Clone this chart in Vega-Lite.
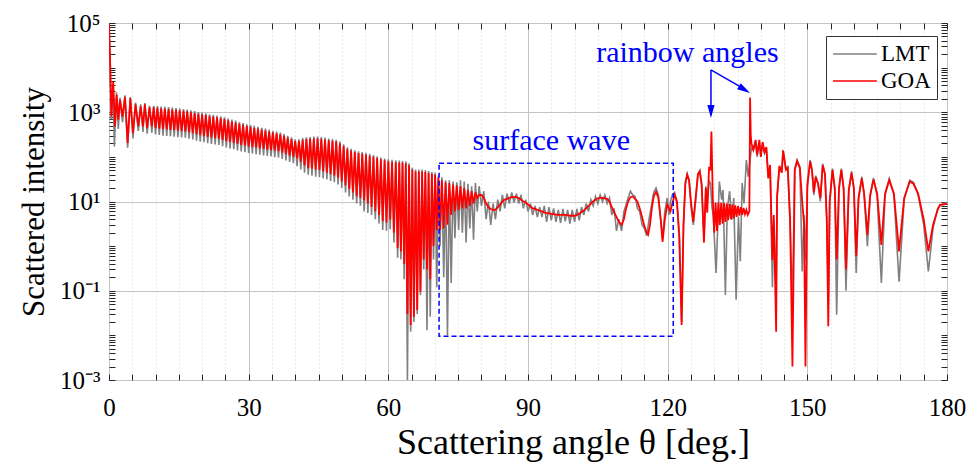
{
"$schema": "https://vega.github.io/schema/vega-lite/v6.json",
"width": 838, "height": 357,
"autosize": {"type": "none"},
"padding": {"left": 109, "top": 23, "right": 23, "bottom": 87},
"config": {"font": "Liberation Serif", "view": {"stroke": "#262626", "strokeWidth": 1}, "background": "white",
"axis": {"labelFont": "Liberation Serif", "titleFont": "Liberation Serif"},
"legend": {"labelFont": "Liberation Serif", "titleFont": "Liberation Serif"},
"text": {"font": "Liberation Serif"}},
"datasets": {
"goa": [
{"t":0,"v":95000},{"t":0.25,"v":12000},{"t":0.5,"v":800},{"t":0.9,"v":4900},{"t":1.3,"v":480},{"t":1.65,"v":2450},{"t":2.0,"v":680},{"t":2.36,"v":1900},{"t":2.9,"v":800},{"t":3.44,"v":2200},{"t":4.0,"v":205},{"t":4.58,"v":2050},{"t":5.15,"v":340},{"t":5.7,"v":1500},{"t":6.3,"v":480},{"t":6.8,"v":1350},{"t":7.3,"v":480},{"t":7.7,"v":1500},{"t":8.2,"v":440},{"t":8.7,"v":1290},{"t":9.2,"v":480},{"t":9.6,"v":1300},{"t":10.0,"v":440},
{"t":10.4,"v":1250},{"t":10.8,"v":430},{"t":11.2,"v":1230},{"t":11.6,"v":420},{"t":12.0,"v":1210},{"t":12.4,"v":410},{"t":12.8,"v":1180},{"t":13.2,"v":400},{"t":13.6,"v":1150},{"t":14.0,"v":395},{"t":14.4,"v":1130},{"t":14.8,"v":385},{"t":15.2,"v":1100},{"t":15.6,"v":380},{"t":16.0,"v":1070},{"t":16.4,"v":372},{"t":16.8,"v":1050},{"t":17.2,"v":355},{"t":17.6,"v":1000},{"t":18.0,"v":340},{"t":18.4,"v":960},{"t":18.8,"v":320},{"t":19.2,"v":920},{"t":19.6,"v":305},{"t":20.0,"v":890},{"t":20.4,"v":295},{"t":20.8,"v":860},{"t":21.2,"v":280},{"t":21.6,"v":820},{"t":22.0,"v":270},{"t":22.4,"v":800},{"t":22.8,"v":262},{"t":23.2,"v":770},{"t":23.6,"v":255},{"t":24.0,"v":740},{"t":24.4,"v":240},{"t":24.8,"v":700},{"t":25.2,"v":225},{"t":25.6,"v":660},{"t":26.0,"v":215},{"t":26.4,"v":620},{"t":26.8,"v":205},{"t":27.2,"v":590},{"t":27.6,"v":195},{"t":28.0,"v":550},{"t":28.4,"v":185},{"t":28.8,"v":520},{"t":29.2,"v":178},{"t":29.6,"v":490},{"t":30.0,"v":170},{"t":30.4,"v":470},{"t":30.8,"v":165},{"t":31.2,"v":450},{"t":31.6,"v":160},{"t":32.0,"v":430},{"t":32.4,"v":155},{"t":32.8,"v":410},{"t":33.2,"v":150},{"t":33.6,"v":390},{"t":34.0,"v":146},{"t":34.4,"v":370},{"t":34.8,"v":142},{"t":35.2,"v":350},{"t":35.6,"v":138},{"t":36.0,"v":335},{"t":36.4,"v":134},{"t":36.8,"v":320},{"t":37.2,"v":125},{"t":37.6,"v":295},{"t":38.0,"v":115},{"t":38.4,"v":270},{"t":38.8,"v":107},{"t":39.2,"v":250},{"t":39.6,"v":100},{"t":40.0,"v":225},{"t":40.4,"v":92},{"t":40.8,"v":225},{"t":41.2,"v":78},{"t":41.6,"v":240},{"t":42.0,"v":64},{"t":42.4,"v":250},{"t":42.8,"v":56},{"t":43.2,"v":255},{"t":43.6,"v":54},{"t":44.0,"v":258},{"t":44.4,"v":52},{"t":44.8,"v":260},{"t":45.2,"v":51},{"t":45.6,"v":255},{"t":46.0,"v":47},{"t":46.4,"v":245},{"t":46.8,"v":44},{"t":47.2,"v":235},{"t":47.6,"v":41},{"t":48.0,"v":228},{"t":48.4,"v":38},{"t":48.8,"v":220},{"t":49.2,"v":34},{"t":49.6,"v":200},{"t":50.0,"v":28},{"t":50.4,"v":175},{"t":50.8,"v":23},{"t":51.2,"v":150},{"t":51.6,"v":19},{"t":52.0,"v":138},{"t":52.4,"v":16},{"t":52.8,"v":128},{"t":53.2,"v":13},{"t":53.6,"v":122},{"t":54.0,"v":12},{"t":54.4,"v":117},{"t":54.8,"v":10.5},{"t":55.2,"v":112},{"t":55.6,"v":9},{"t":56.0,"v":106},{"t":56.4,"v":7.5},{"t":56.8,"v":100},{"t":57.2,"v":6},{"t":57.6,"v":94},{"t":58.0,"v":5},{"t":58.4,"v":88},{"t":58.8,"v":3.6},{"t":59.2,"v":84},{"t":59.6,"v":3.4},{"t":60.0,"v":80},{"t":60.4,"v":3.9},{"t":60.8,"v":78},{"t":61.2,"v":2.0},{"t":61.6,"v":76},{"t":62.0,"v":0.9},
{"t":62.35,"v":75},{"t":62.7,"v":0.76},{"t":63.05,"v":74},{"t":63.4,"v":0.4},{"t":63.75,"v":72},{"t":64.1,"v":0.03},{"t":64.45,"v":65},{"t":64.8,"v":0.017},{"t":65.15,"v":52},{"t":65.5,"v":0.026},{"t":65.85,"v":47},{"t":66.2,"v":0.037},{"t":66.55,"v":47},{"t":66.9,"v":0.095},{"t":67.25,"v":47},{"t":67.6,"v":0.5},{"t":67.95,"v":46},{"t":68.3,"v":0.3},{"t":68.65,"v":44},{"t":69.0,"v":0.18},{"t":69.35,"v":42},{"t":69.7,"v":1.0},{"t":70.05,"v":40},{"t":70.4,"v":2.3},{"t":70.75,"v":34},{"t":71.1,"v":2.3},
{"t":71.5,"v":30},{"t":71.9,"v":2.5},{"t":72.3,"v":27},{"t":72.7,"v":3.0},{"t":73.1,"v":26},{"t":73.5,"v":5},{"t":73.9,"v":24},{"t":74.3,"v":6},{"t":74.7,"v":23},{"t":75.1,"v":6.5},{"t":75.5,"v":22},{"t":75.9,"v":7},{"t":76.3,"v":20},{"t":76.7,"v":7},{"t":77.1,"v":18},{"t":77.5,"v":8},{"t":77.9,"v":17},{"t":78.3,"v":9},{"t":78.7,"v":16},{"t":79.1,"v":12},{"t":79.5,"v":14},{"t":80.0,"v":14},{"t":80.5,"v":12},{"t":81.0,"v":9},{"t":81.5,"v":7.5},{"t":82.0,"v":6.8},{"t":82.5,"v":6.5},{"t":83.0,"v":6.5},{"t":83.5,"v":7.5},{"t":84.0,"v":8.5},{"t":84.5,"v":10},{"t":85.0,"v":11},{"t":85.5,"v":11.5},{"t":86.0,"v":12},{"t":86.5,"v":12.5},{"t":87.0,"v":12.5},{"t":87.5,"v":12.5},{"t":88.0,"v":12},{"t":88.5,"v":11},{"t":89.0,"v":10},{"t":89.5,"v":9.5},{"t":90.0,"v":8.5},{"t":90.5,"v":7.8},{"t":91.0,"v":7},{"t":91.5,"v":6.8},{"t":92.0,"v":6.5},{"t":92.5,"v":6.2},{"t":93.0,"v":6},{"t":93.5,"v":5.7},{"t":94.0,"v":5.5},{"t":94.5,"v":5.4},{"t":95.0,"v":5.3},{"t":95.5,"v":5.2},{"t":96.0,"v":5.1},{"t":96.5,"v":5.0},{"t":97.0,"v":5.0},{"t":97.5,"v":5.0},{"t":98.0,"v":5.0},{"t":98.5,"v":4.9},{"t":99.0,"v":4.8},{"t":99.5,"v":4.8},{"t":100.0,"v":4.8},{"t":100.5,"v":5.0},{"t":101.0,"v":5.3},{"t":101.5,"v":5.8},{"t":102.0,"v":6.3},{"t":102.5,"v":7},{"t":103.0,"v":8},{"t":103.5,"v":9},{"t":104.0,"v":10},{"t":104.5,"v":11},{"t":105.0,"v":11.8},{"t":105.5,"v":12},{"t":106.0,"v":12},{"t":106.5,"v":11.8},{"t":107.0,"v":11.5},{"t":107.5,"v":10},{"t":108.0,"v":7.5},{"t":108.5,"v":5.8},{"t":109.0,"v":4.5},{"t":109.5,"v":3.5},{"t":110.1,"v":3.0},{"t":110.6,"v":4},{"t":111.0,"v":6.5},{"t":111.5,"v":10},{"t":112.0,"v":12.5},{"t":112.5,"v":13},{"t":113.0,"v":11.5},{"t":113.5,"v":10},{"t":114.0,"v":7},{"t":114.5,"v":4.5},{"t":115.0,"v":2.8},{"t":115.5,"v":2.0},{"t":115.8,"v":1.8},{"t":116.2,"v":3},{"t":116.6,"v":7},{"t":117.0,"v":13},{"t":117.5,"v":16.5},{"t":118.0,"v":12},{"t":118.5,"v":4},{"t":118.9,"v":1.25},{"t":119.4,"v":4},{"t":119.9,"v":8.5},{"t":120.3,"v":7},{"t":120.6,"v":6},{"t":121.0,"v":9},{"t":121.5,"v":14},{"t":122.0,"v":10},{"t":122.5,"v":1.5},{"t":123.0,"v":0.017},{"t":123.4,"v":3},{"t":123.8,"v":25},{"t":124.2,"v":40},{"t":124.6,"v":30},{"t":125.0,"v":10},{"t":125.5,"v":3.5},{"t":126.0,"v":12},{"t":126.5,"v":40},{"t":126.9,"v":47},{"t":127.3,"v":25},{"t":127.8,"v":1.2},{"t":128.2,"v":20},{"t":128.5,"v":5.6},{"t":128.9,"v":60},{"t":129.2,"v":50},{"t":129.4,"v":370},{"t":129.7,"v":11},{"t":130.0,"v":2.0},
{"t":130.3,"v":9.5},{"t":130.6,"v":2.2},{"t":130.9,"v":9.5},{"t":131.2,"v":3.0},{"t":131.5,"v":9.5},{"t":131.8,"v":3.2},{"t":132.1,"v":9.2},{"t":132.4,"v":3.5},{"t":132.7,"v":9.0},{"t":133.0,"v":3.8},{"t":133.3,"v":8.8},{"t":133.6,"v":4.0},{"t":133.9,"v":8.5},{"t":134.2,"v":4.2},{"t":134.5,"v":8.2},{"t":134.8,"v":4.5},{"t":135.1,"v":8.0},{"t":135.4,"v":4.8},{"t":135.7,"v":7.5},{"t":136.0,"v":5.0},{"t":136.3,"v":7.2},{"t":136.6,"v":5.2},{"t":136.9,"v":6.5},{"t":137.2,"v":5.0},{"t":137.55,"v":6.0},{"t":137.7,"v":2140},
{"t":137.85,"v":300},{"t":138.0,"v":200},{"t":138.4,"v":145},{"t":138.9,"v":240},{"t":139.2,"v":112},{"t":139.7,"v":240},{"t":140.0,"v":100},{"t":140.4,"v":215},{"t":140.8,"v":130},{"t":141.2,"v":165},{"t":141.6,"v":33},{"t":142.0,"v":66},{"t":142.5,"v":0.49},{"t":142.8,"v":5},{"t":143.3,"v":0.012},{"t":143.5,"v":13},{"t":144.0,"v":63},{"t":144.5,"v":44},{"t":144.8,"v":138},{"t":145.4,"v":51},{"t":145.8,"v":56},{"t":146.3,"v":3.9},{"t":146.8,"v":0.002},{"t":147.3,"v":51},{"t":147.8,"v":80},{"t":148.4,"v":56},{"t":148.9,"v":10},{"t":149.3,"v":3},{"t":149.6,"v":0.002},{"t":150.0,"v":24},{"t":150.6,"v":79},{"t":151.0,"v":50},{"t":151.4,"v":16},{"t":151.8,"v":35},{"t":152.3,"v":25},{"t":152.8,"v":12},{"t":153.3,"v":65},{"t":153.8,"v":40},{"t":154.2,"v":3},{"t":154.5,"v":0.016},{"t":154.8,"v":10},{"t":155.4,"v":51},{"t":155.9,"v":20},{"t":156.3,"v":0.5},{"t":156.8,"v":20},{"t":157.3,"v":51},{"t":157.8,"v":20},{"t":158.3,"v":0.3},{"t":158.9,"v":18},{"t":159.5,"v":44},{"t":160.0,"v":20},{"t":160.5,"v":0.6},{"t":161.0,"v":12},{"t":161.7,"v":33},{"t":162.2,"v":15},{"t":162.9,"v":1.8},{"t":163.5,"v":14},{"t":164.2,"v":31},{"t":165.0,"v":15},{"t":165.9,"v":1.07},{"t":166.7,"v":15},{"t":167.6,"v":30},{"t":168.6,"v":15},{"t":169.7,"v":0.76},{"t":170.8,"v":12},{"t":172.0,"v":28},{"t":172.8,"v":25},{"t":173.8,"v":15},{"t":175.0,"v":3.9},{"t":176.0,"v":0.76},{"t":177.0,"v":3},{"t":178.0,"v":6.5},{"t":178.5,"v":8.5},{"t":179.2,"v":8.5},{"t":180.0,"v":9}
],
"lmt": [
{"t":0,"v":95000},{"t":0.25,"v":15000},{"t":0.5,"v":700},{"t":0.85,"v":4000},{"t":1.15,"v":170},{"t":1.6,"v":2800},{"t":2.0,"v":420},{"t":2.36,"v":2100},{"t":2.9,"v":600},{"t":3.44,"v":2400},{"t":4.0,"v":160},{"t":4.58,"v":2200},{"t":5.15,"v":260},{"t":5.7,"v":1650},{"t":6.3,"v":380},{"t":6.8,"v":1500},{"t":7.3,"v":360},{"t":7.7,"v":1600},{"t":8.2,"v":330},{"t":8.7,"v":1400},{"t":9.2,"v":350},{"t":9.6,"v":1400},{"t":10.0,"v":320},
{"t":10.4,"v":1380},{"t":10.8,"v":310},{"t":11.2,"v":1350},{"t":11.6,"v":300},{"t":12.0,"v":1330},{"t":12.4,"v":295},{"t":12.8,"v":1300},{"t":13.2,"v":290},{"t":13.6,"v":1270},{"t":14.0,"v":285},{"t":14.4,"v":1240},{"t":14.8,"v":277},{"t":15.2,"v":1210},{"t":15.6,"v":274},{"t":16.0,"v":1180},{"t":16.4,"v":268},{"t":16.8,"v":1155},{"t":17.2,"v":256},{"t":17.6,"v":1100},{"t":18.0,"v":245},{"t":18.4,"v":1060},{"t":18.8,"v":230},{"t":19.2,"v":1010},{"t":19.6,"v":220},{"t":20.0,"v":980},{"t":20.4,"v":212},{"t":20.8,"v":946},{"t":21.2,"v":202},{"t":21.6,"v":900},{"t":22.0,"v":194},{"t":22.4,"v":880},{"t":22.8,"v":189},{"t":23.2,"v":847},{"t":23.6,"v":184},{"t":24.0,"v":814},{"t":24.4,"v":173},{"t":24.8,"v":770},{"t":25.2,"v":162},{"t":25.6,"v":726},{"t":26.0,"v":155},{"t":26.4,"v":682},{"t":26.8,"v":148},{"t":27.2,"v":649},{"t":27.6,"v":140},{"t":28.0,"v":605},{"t":28.4,"v":133},{"t":28.8,"v":572},{"t":29.2,"v":128},{"t":29.6,"v":539},{"t":30.0,"v":122},{"t":30.4,"v":517},{"t":30.8,"v":119},{"t":31.2,"v":495},{"t":31.6,"v":115},{"t":32.0,"v":473},{"t":32.4,"v":112},{"t":32.8,"v":451},{"t":33.2,"v":108},{"t":33.6,"v":429},{"t":34.0,"v":105},{"t":34.4,"v":407},{"t":34.8,"v":102},{"t":35.2,"v":385},{"t":35.6,"v":99},{"t":36.0,"v":369},{"t":36.4,"v":96},{"t":36.8,"v":352},{"t":37.2,"v":90},{"t":37.6,"v":325},{"t":38.0,"v":83},{"t":38.4,"v":297},{"t":38.8,"v":77},{"t":39.2,"v":275},{"t":39.6,"v":72},{"t":40.0,"v":248},{"t":40.4,"v":62},{"t":40.8,"v":248},{"t":41.2,"v":52},{"t":41.6,"v":264},{"t":42.0,"v":44},{"t":42.4,"v":275},{"t":42.8,"v":40},{"t":43.2,"v":280},{"t":43.6,"v":38},{"t":44.0,"v":284},{"t":44.4,"v":36},{"t":44.8,"v":286},{"t":45.2,"v":35},{"t":45.6,"v":280},{"t":46.0,"v":33},{"t":46.4,"v":270},{"t":46.8,"v":31},{"t":47.2,"v":258},{"t":47.6,"v":29},{"t":48.0,"v":251},{"t":48.4,"v":27},{"t":48.8,"v":242},{"t":49.2,"v":24},{"t":49.6,"v":220},{"t":50.0,"v":20},{"t":50.4,"v":192},{"t":50.8,"v":16},{"t":51.2,"v":165},{"t":51.6,"v":13},{"t":52.0,"v":152},{"t":52.4,"v":11},{"t":52.8,"v":141},{"t":53.2,"v":9},{"t":53.6,"v":134},{"t":54.0,"v":8},{"t":54.4,"v":129},{"t":54.8,"v":6},{"t":55.2,"v":123},{"t":55.6,"v":5.5},{"t":56.0,"v":117},{"t":56.4,"v":5},{"t":56.8,"v":110},{"t":57.2,"v":4},{"t":57.6,"v":103},{"t":58.0,"v":3.2},{"t":58.4,"v":97},{"t":58.8,"v":2.3},{"t":59.2,"v":92},{"t":59.6,"v":2.2},{"t":60.0,"v":88},{"t":60.4,"v":2.4},{"t":60.8,"v":86},{"t":61.2,"v":1.2},{"t":61.6,"v":84},{"t":62.0,"v":0.55},
{"t":62.35,"v":83},{"t":62.7,"v":0.5},{"t":63.05,"v":81},{"t":63.4,"v":0.18},{"t":63.75,"v":79},{"t":64.1,"v":0.001},{"t":64.45,"v":72},{"t":64.8,"v":0.012},{"t":65.15,"v":57},{"t":65.5,"v":0.02},{"t":65.85,"v":52},{"t":66.2,"v":0.03},{"t":66.55,"v":52},{"t":66.9,"v":0.08},{"t":67.25,"v":52},{"t":67.6,"v":0.3},{"t":67.95,"v":51},{"t":68.3,"v":0.013},{"t":68.65,"v":48},{"t":69.0,"v":0.026},{"t":69.35,"v":46},{"t":69.7,"v":0.5},{"t":70.05,"v":44},{"t":70.4,"v":0.12},{"t":70.75,"v":38},{"t":71.1,"v":1.0},
{"t":71.5,"v":35},{"t":71.9,"v":0.2},{"t":72.3,"v":30},{"t":72.7,"v":0.01},{"t":73.1,"v":30},{"t":73.5,"v":0.15},{"t":73.9,"v":28},{"t":74.3,"v":1.5},{"t":74.7,"v":27},{"t":75.1,"v":2.3},{"t":75.5,"v":30},{"t":75.9,"v":2.0},{"t":76.3,"v":28},{"t":76.7,"v":1.2},{"t":77.1,"v":25},{"t":77.5,"v":2.5},{"t":77.9,"v":22},{"t":78.3,"v":1.4},{"t":78.7,"v":26},{"t":79.1,"v":6},{"t":79.5,"v":22},{"t":80.0,"v":8},{"t":80.5,"v":17},{"t":81.0,"v":4},{"t":81.5,"v":10},{"t":82.0,"v":3},{"t":82.5,"v":9},{"t":83.0,"v":4},{"t":83.5,"v":11},{"t":84.0,"v":6},{"t":84.5,"v":14},{"t":85.0,"v":7},{"t":85.5,"v":15},{"t":86.0,"v":9},{"t":86.5,"v":16},{"t":87.0,"v":9.5},{"t":87.5,"v":15},{"t":88.0,"v":9},{"t":88.5,"v":14},{"t":89.0,"v":7},{"t":89.5,"v":11},{"t":90.0,"v":6},{"t":90.5,"v":9},{"t":91.0,"v":5},{"t":91.5,"v":8},{"t":92.0,"v":4.5},{"t":92.5,"v":7.5},{"t":93.0,"v":4.5},{"t":93.5,"v":8},{"t":94.0,"v":3.5},{"t":94.5,"v":7.5},{"t":95.0,"v":3.8},{"t":95.5,"v":7},{"t":96.0,"v":3.5},{"t":96.5,"v":6.5},{"t":97.0,"v":3.3},{"t":97.5,"v":6.8},{"t":98.0,"v":3.6},{"t":98.5,"v":6.5},{"t":99.0,"v":3.2},{"t":99.5,"v":6.5},{"t":100.0,"v":3.5},{"t":100.5,"v":6.8},{"t":101.0,"v":3.8},{"t":101.5,"v":7.5},{"t":102.0,"v":5},{"t":102.5,"v":9},{"t":103.0,"v":6},{"t":103.5,"v":11},{"t":104.0,"v":8},{"t":104.5,"v":13},{"t":105.0,"v":9},{"t":105.5,"v":14},{"t":106.0,"v":10},{"t":106.5,"v":14},{"t":107.0,"v":9},{"t":107.5,"v":12},{"t":108.0,"v":5},{"t":108.5,"v":7},{"t":109.0,"v":2.2},{"t":109.5,"v":4},{"t":110.1,"v":2.2},{"t":110.6,"v":6},{"t":111.0,"v":8},{"t":111.5,"v":12},{"t":112.0,"v":17},{"t":112.5,"v":14},{"t":113.0,"v":13},{"t":113.5,"v":7},{"t":114.0,"v":6},{"t":114.5,"v":3.0},{"t":115.0,"v":2.5},{"t":115.5,"v":1.7},{"t":116.0,"v":4},{"t":116.5,"v":8},{"t":117.0,"v":16},{"t":117.5,"v":20},{"t":118.0,"v":14},{"t":118.5,"v":4},{"t":118.9,"v":1.5},{"t":119.4,"v":6},{"t":119.9,"v":12},{"t":120.3,"v":5},{"t":120.6,"v":10},{"t":121.0,"v":14},{"t":121.5,"v":16},{"t":122.0,"v":9},{"t":122.5,"v":2},{"t":123.0,"v":0.02},{"t":123.4,"v":3},{"t":123.8,"v":28},{"t":124.2,"v":42},{"t":124.6,"v":30},{"t":125.0,"v":8},{"t":125.5,"v":3},{"t":126.0,"v":10},{"t":126.5,"v":42},{"t":126.9,"v":50},{"t":127.3,"v":22},{"t":127.8,"v":1.5},{"t":128.2,"v":22},{"t":128.5,"v":10},{"t":128.9,"v":30},{"t":129.2,"v":25},{"t":129.5,"v":8},{"t":129.8,"v":4.6},{"t":130.4,"v":0.25},{"t":131.1,"v":28},{"t":131.6,"v":11},{"t":131.9,"v":18},{"t":132.4,"v":0.08},{"t":132.8,"v":6.5},{"t":133.3,"v":17},{"t":133.8,"v":3.9},{"t":134.2,"v":12},{"t":134.7,"v":0.063},{"t":135.2,"v":4.6},{"t":135.6,"v":0.46},{"t":136.0,"v":26},{"t":136.4,"v":9},{"t":136.9,"v":85},{"t":137.3,"v":36},{"t":137.7,"v":85},{"t":138.0,"v":160},{"t":138.4,"v":140},{"t":138.9,"v":200},{"t":139.2,"v":100},{"t":139.7,"v":200},{"t":140.0,"v":110},{"t":140.4,"v":190},{"t":140.8,"v":120},{"t":141.2,"v":150},{"t":141.6,"v":40},{"t":142.0,"v":60},{"t":142.5,"v":0.12},{"t":142.8,"v":3},{"t":143.3,"v":0.1},{"t":143.5,"v":12},{"t":144.0,"v":60},{"t":144.5,"v":45},{"t":144.8,"v":140},{"t":145.4,"v":55},{"t":145.8,"v":60},{"t":146.3,"v":3},{"t":146.8,"v":0.05},{"t":147.3,"v":55},{"t":147.8,"v":85},{"t":148.4,"v":60},{"t":148.9,"v":0.27},{"t":149.3,"v":5},{"t":149.6,"v":0.5},{"t":150.0,"v":20},{"t":150.6,"v":85},{"t":151.0,"v":52},{"t":151.4,"v":14},{"t":151.8,"v":38},{"t":152.3,"v":25},{"t":152.8,"v":10},{"t":153.3,"v":70},{"t":153.8,"v":40},{"t":154.2,"v":3.9},{"t":154.5,"v":0.05},{"t":154.8,"v":9},{"t":155.4,"v":55},{"t":155.9,"v":18},{"t":156.3,"v":0.029},{"t":156.8,"v":18},{"t":157.3,"v":55},{"t":157.8,"v":18},{"t":158.3,"v":0.1},{"t":158.9,"v":17},{"t":159.5,"v":48},{"t":160.0,"v":18},{"t":160.5,"v":0.25},{"t":161.0,"v":11},{"t":161.7,"v":36},{"t":162.2,"v":14},{"t":162.9,"v":1.0},{"t":163.5,"v":13},{"t":164.2,"v":34},{"t":165.0,"v":13},{"t":165.9,"v":0.15},{"t":166.7,"v":14},{"t":167.6,"v":33},{"t":168.6,"v":14},{"t":169.7,"v":0.16},{"t":170.8,"v":11},{"t":172.0,"v":30},{"t":172.8,"v":27},{"t":173.8,"v":14},{"t":175.0,"v":3},{"t":176.0,"v":0.27},{"t":177.0,"v":2.5},{"t":178.0,"v":7},{"t":178.5,"v":8},{"t":179.2,"v":9},{"t":180.0,"v":9.5}
]
},
"resolve": {"axis": {"x": "independent", "y": "independent"}},
"layer": [
{
"data": {"name": "lmt"},
"mark": {"type": "line", "strokeWidth": 1.6, "clip": true},
"encoding": {
"x": {"field": "t", "type": "quantitative", "scale": {"domain": [0, 180], "nice": false, "zero": false},
"axis": {"orient": "bottom", "title": "Scattering angle θ [deg.]", "titleFont": "Liberation Serif", "titleFontSize": 36, "titleFontWeight": "normal", "titleColor": "black", "titlePadding": 5, "titleX": 464, "titleAlign": "center",
"values": [0,5,10,15,20,25,30,35,40,45,50,55,60,65,70,75,80,85,90,95,100,105,110,115,120,125,130,135,140,145,150,155,160,165,170,175,180],
"labelExpr": "datum.value % 30 == 0 ? datum.label : ''", "labelFont": "Liberation Serif", "labelFontSize": 25, "labelColor": "black", "labelPadding": 21, "labelFlush": false,
"tickSize": -6, "tickColor": "#262626", "domain": false,
"grid": true, "gridColor": {"condition": {"test": "datum.value % 30 == 0", "value": "#c4c4c4"}, "value": "#d4d4d4"}, "gridDash": {"condition": {"test": "datum.value % 30 == 0", "value": []}, "value": [1, 3]}, "gridWidth": 1}},
"y": {"field": "v", "type": "quantitative", "scale": {"type": "log", "domain": [0.001, 100000], "nice": false},
"axis": {"orient": "left", "title": "Scattered intensity", "titleFont": "Liberation Serif", "titleFontSize": 31, "titleFontWeight": "normal", "titleColor": "black", "titlePadding": 9,
"values": [0.001,0.002,0.003,0.004,0.005,0.006,0.007,0.008,0.009,0.01,0.02,0.03,0.04,0.05,0.06,0.07,0.08,0.09,0.1,0.2,0.3,0.4,0.5,0.6,0.7,0.8,0.9,1,2,3,4,5,6,7,8,9,10,20,30,40,50,60,70,80,90,100,200,300,400,500,600,700,800,900,1000,2000,3000,4000,5000,6000,7000,8000,9000,10000,20000,30000,40000,50000,60000,70000,80000,90000,100000],
"labelExpr": "datum.value == 100000 ? '10⁵' : datum.value == 1000 ? '10³' : datum.value == 10 ? '10¹' : datum.value == 0.1 ? '10⁻¹' : datum.value == 0.001 ? '10⁻³' : ''",
"labelFont": "Liberation Serif", "labelFontSize": 25, "labelColor": "black", "labelPadding": 15, "labelFlush": false,
"tickSize": -6, "tickColor": "#262626", "domain": false,
"grid": true, "gridColor": "#c4c4c4", "gridOpacity": {"condition": {"test": "indexof([0.001, 0.1, 10, 1000, 100000], datum.value) >= 0", "value": 1}, "value": 0}}},
"color": {"datum": "LMT", "type": "nominal", "scale": {"domain": ["LMT", "GOA"], "range": ["#808080", "#ff0000"]},
"legend": {"title": null, "orient": "none", "legendX": 717, "legendY": 13, "direction": "vertical", "symbolType": "M-1,0H3", "symbolSize": 480, "symbolStrokeWidth": 1.6, "labelFont": "Liberation Serif", "labelFontSize": 23, "labelColor": "black", "labelOffset": 25, "rowPadding": 3, "padding": 6, "strokeColor": "#333333", "fillColor": "white", "cornerRadius": 0}}
}
},
{
"data": {"name": "goa"},
"mark": {"type": "line", "strokeWidth": 1.8, "clip": true},
"encoding": {
"x": {"field": "t", "type": "quantitative", "scale": {"domain": [0, 180], "nice": false, "zero": false},
"axis": {"orient": "top", "title": null, "labels": false, "grid": false, "domain": false, "tickSize": -6, "tickColor": "#262626",
"values": [0,5,10,15,20,25,30,35,40,45,50,55,60,65,70,75,80,85,90,95,100,105,110,115,120,125,130,135,140,145,150,155,160,165,170,175,180]}},
"y": {"field": "v", "type": "quantitative", "scale": {"type": "log", "domain": [0.001, 100000], "nice": false},
"axis": {"orient": "right", "title": null, "labels": false, "grid": false, "domain": false, "tickSize": -6, "tickColor": "#262626",
"values": [0.001,0.002,0.003,0.004,0.005,0.006,0.007,0.008,0.009,0.01,0.02,0.03,0.04,0.05,0.06,0.07,0.08,0.09,0.1,0.2,0.3,0.4,0.5,0.6,0.7,0.8,0.9,1,2,3,4,5,6,7,8,9,10,20,30,40,50,60,70,80,90,100,200,300,400,500,600,700,800,900,1000,2000,3000,4000,5000,6000,7000,8000,9000,10000,20000,30000,40000,50000,60000,70000,80000,90000,100000]}},
"color": {"datum": "GOA", "type": "nominal"}
}
},
{
"data": {"values": [{"x": 70.9, "x2": 121.2, "y": 0.0095, "y2": 72}]},
"mark": {"type": "rect", "fill": null, "stroke": "#0000ff", "strokeWidth": 1.5, "strokeDash": [5, 3]},
"encoding": {
"x": {"field": "x", "type": "quantitative", "axis": null, "scale": {"domain": [0, 180], "nice": false, "zero": false}},
"x2": {"field": "x2"},
"y": {"field": "y", "type": "quantitative", "axis": null, "scale": {"type": "log", "domain": [0.001, 100000], "nice": false}},
"y2": {"field": "y2"}
}
},
{
"data": {"values": [{"x": 129.3, "y": 8900, "x2": 129.3, "y2": 1000}, {"x": 129.3, "y": 8900, "x2": 136.3, "y2": 3400}]},
"mark": {"type": "rule", "stroke": "#0000ff", "strokeWidth": 1.5},
"encoding": {
"x": {"field": "x", "type": "quantitative", "axis": null, "scale": {"domain": [0, 180], "nice": false, "zero": false}},
"x2": {"field": "x2"},
"y": {"field": "y", "type": "quantitative", "axis": null, "scale": {"type": "log", "domain": [0.001, 100000], "nice": false}},
"y2": {"field": "y2"}
}
},
{
"data": {"values": [{"x": 129.3, "y": 740}]},
"mark": {"type": "point", "shape": "M0,0L-2,-0.55L-2,0.55Z", "size": 170, "angle": 90, "filled": true, "color": "#0000ff", "opacity": 1},
"encoding": {
"x": {"field": "x", "type": "quantitative", "axis": null, "scale": {"domain": [0, 180], "nice": false, "zero": false}},
"y": {"field": "y", "type": "quantitative", "axis": null, "scale": {"type": "log", "domain": [0.001, 100000], "nice": false}}
}
},
{
"data": {"values": [{"x": 137.7, "y": 2700}]},
"mark": {"type": "point", "shape": "M0,0L-2,-0.55L-2,0.55Z", "size": 170, "angle": 31, "filled": true, "color": "#0000ff", "opacity": 1},
"encoding": {
"x": {"field": "x", "type": "quantitative", "axis": null, "scale": {"domain": [0, 180], "nice": false, "zero": false}},
"y": {"field": "y", "type": "quantitative", "axis": null, "scale": {"type": "log", "domain": [0.001, 100000], "nice": false}}
}
},
{
"data": {"values": [{"x": 95.0, "y": 144, "label": "surface wave"}, {"x": 124.25, "y": 13650, "label": "rainbow angles"}]},
"mark": {"type": "text", "font": "Liberation Serif", "fontSize": 30, "color": "#0000ff", "align": "center", "baseline": "alphabetic"},
"encoding": {
"x": {"field": "x", "type": "quantitative", "axis": null, "scale": {"domain": [0, 180], "nice": false, "zero": false}},
"y": {"field": "y", "type": "quantitative", "axis": null, "scale": {"type": "log", "domain": [0.001, 100000], "nice": false}},
"text": {"field": "label"}
}
}
]
}
